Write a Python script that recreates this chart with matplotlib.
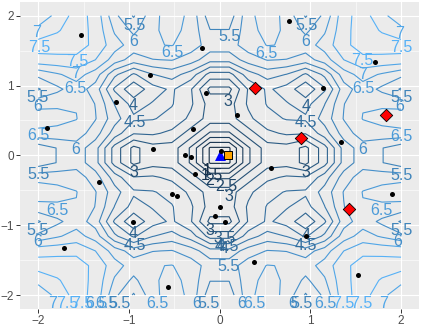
import numpy as np
import matplotlib
matplotlib.use("Agg")
import matplotlib.pyplot as plt
from matplotlib.ticker import FixedLocator

# ---------------- data ----------------
# evaluation grid of the surface (20 x 20 points over [-2, 2])
grid_x = np.linspace(-2, 2, 20)
grid_y = np.linspace(-2, 2, 20)

def ackley(x, y):
    return (-20 * np.exp(-0.2 * np.sqrt(0.5 * (x ** 2 + y ** 2)))
            - np.exp(0.5 * (np.cos(2 * np.pi * x) + np.cos(2 * np.pi * y)))
            + np.e + 20)

contour_levels = [1.0, 1.5, 2.0, 2.5, 3.0, 3.5, 4.0, 4.5, 5.0, 5.5, 6.0, 6.5, 7.0, 7.5]

# sampled points
sample_x = [-1.526, -0.769, -1.144, -1.904, -0.736, 0.762, -0.193, -0.149, 0.189, -0.295,
            -0.384, -0.317, 0.013, 1.713, 1.140, 1.339, -1.328, -0.957, -1.714, 0.567,
            -0.270, -0.520, -0.472, 0.002, -0.053, 0.064, 0.380, -0.571, 1.897, 0.950, 1.526]
sample_y = [1.728, 1.155, 0.768, 0.395, 0.095, 1.929, 1.542, 0.897, 0.577, 0.372,
            0.009, -0.020, 0.066, 1.341, 0.964, 0.190, -0.383, -0.951, -1.323, -0.177,
            -0.268, -0.559, -0.579, -0.745, -0.865, -0.951, -1.524, -1.891, -0.559, -1.152, -1.710]

# highlighted points
new_x = [0.395, 1.838, 0.902, 1.431]
new_y = [0.969, 0.573, 0.252, -0.774]

optimum_x = [0.0]
optimum_y = [0.0]
best_x = [0.097]
best_y = [0.0]

# contour labels (text, x, y)
label_text = ["5.5", "6", "7", "7.5", "7.5", "7", "6.5", "5.5", "6", "6.5", "6", "4", "4.5",
              "5.5", "6.5", "6.5", "3",
              "5.5", "6", "7", "7.5", "7.5", "7", "6.5", "5.5", "6", "6.5", "6", "4", "4.5",
              "5.5", "3", "6.5", "5.5", "6", "4", "4.5",
              "1", "1.5", "2", "2.5", "3", "3", "3.5", "4", "4.5", "4", "5.5",
              "5.5", "6.5", "5.5", "6", "3", "4", "4.5",
              "7", "7.5", "7.5", "6.5", "6.5", "5.5", "6.5", "6", "5.5", "6", "6.5",
              "6", "5.5", "6.5", "7.5", "7.5", "7"]
label_x = [-0.94, -0.95, -2.02, -1.99, -1.57, -1.59, -1.585, -2.01, -2.01, -2.0, -1.59, -0.95, -0.94,
           0.108, -0.52, 0.52, 0.094,
           0.955, 0.945, 1.985, 2.0, 1.57, 1.575, 1.58, 2.0, 1.985, 2.0, 1.575, 0.95, 0.95,
           -2.0, -0.95, -1.783, -2.005, -2.005, -0.955, -0.94,
           -0.134, -0.086, -0.105, 0.079, 0.097, -0.112, 0.06, 0.0, 0.09, 0.05, 0.10,
           2.003, 1.783, 2.003, 1.967, 0.95, 0.95, 0.95,
           -1.838, -1.684, -1.518, -1.353, -1.243, -1.107, -0.689, -0.251, -0.127, 0.245, 0.38,
           0.807, 0.898, 1.17, 1.36, 1.56, 1.81]
label_y = [1.855, 1.625, 1.76, 1.545, 1.345, 1.165, 0.96, 0.835, 0.70, 0.285, 0.09, 0.71, 0.467,
           1.70, 1.47, 1.46, 0.778,
           1.86, 1.628, 1.75, 1.545, 1.351, 1.155, 0.96, 0.835, 0.706, 0.277, 0.09, 0.706, 0.467,
           -0.27, -0.24, -0.784, -1.07, -1.23, -1.12, -1.29,
           -0.22, -0.282, -0.354, -0.44, -0.585, -1.07, -1.19, -1.31, -1.30, -1.33, -1.596,
           -0.282, -0.784, -1.07, -1.238, -0.249, -1.142, -1.285,
           -2.115, -2.115, -2.115, -2.115, -2.115, -2.115, -2.115, -2.115, -2.115, -2.115, -2.115,
           -2.115, -2.115, -2.115, -2.115, -2.115, -2.115]

tick_values = [-2, -1, 0, 1, 2]

# ---------------- helpers ----------------
def _srgb_to_lab(hexcol):
    c = np.array([int(hexcol[i:i + 2], 16) for i in (1, 3, 5)]) / 255.0
    c = np.where(c <= 0.04045, c / 12.92, ((c + 0.055) / 1.055) ** 2.4)
    M = np.array([[0.4124, 0.3576, 0.1805], [0.2126, 0.7152, 0.0722], [0.0193, 0.1192, 0.9505]])
    xyz = M @ c / np.array([0.95047, 1.0, 1.08883])
    f = np.where(xyz > 0.008856, np.cbrt(xyz), 7.787 * xyz + 16 / 116)
    return np.array([116 * f[1] - 16, 500 * (f[0] - f[1]), 200 * (f[1] - f[2])])

def _lab_to_srgb(lab):
    L, a, b = lab
    fy = (L + 16) / 116
    fx = fy + a / 500
    fz = fy - b / 200
    f = np.array([fx, fy, fz])
    xyz = np.where(f ** 3 > 0.008856, f ** 3, (f - 16 / 116) / 7.787) * np.array([0.95047, 1.0, 1.08883])
    Mi = np.array([[3.2406, -1.5372, -0.4986], [-0.9689, 1.8758, 0.0415], [0.0557, -0.2040, 1.0570]])
    c = Mi @ xyz
    c = np.where(c <= 0.0031308, 12.92 * c, 1.055 * np.clip(c, 0, None) ** (1 / 2.4) - 0.055)
    return tuple(np.clip(c, 0, 1))

lab_lo = _srgb_to_lab("#132B43")
lab_hi = _srgb_to_lab("#56B1F7")
lv_min, lv_max = min(contour_levels), max(contour_levels)

def level_color(v):
    t = (float(v) - lv_min) / (lv_max - lv_min)
    return _lab_to_srgb(lab_lo + t * (lab_hi - lab_lo))

# ---------------- figure ----------------
plt.rcParams["font.family"] = ["Liberation Sans", "DejaVu Sans"]
W, H = 423, 331
fig = plt.figure(figsize=(W / 100, H / 100), dpi=100)
ax = fig.add_axes([20 / W, 1 - 309 / H, (419.2 - 20) / W, (309 - 1.7) / H])
ax.set_facecolor("#EBEBEB")
for s in ax.spines.values():
    s.set_visible(False)

ax.set_xlim(-2.2, 2.2)
ax.set_ylim(-2.2, 2.2)
ax.xaxis.set_major_locator(FixedLocator(tick_values))
ax.yaxis.set_major_locator(FixedLocator(tick_values))
ax.xaxis.set_minor_locator(FixedLocator([-1.5, -0.5, 0.5, 1.5]))
ax.yaxis.set_minor_locator(FixedLocator([-1.5, -0.5, 0.5, 1.5]))
ax.grid(which="major", color="white", linewidth=0.8)
ax.grid(which="minor", color="white", linewidth=0.4)
ax.set_axisbelow(True)
ax.tick_params(which="major", length=2.7, width=0.7, color="#333333",
               labelcolor="#4D4D4D", labelsize=8.5, pad=1.8)
ax.tick_params(which="minor", length=0)

GX, GY = np.meshgrid(grid_x, grid_y)
Z = ackley(GX, GY)
ax.contour(GX, GY, Z, levels=contour_levels,
           colors=[level_color(v) for v in contour_levels], linewidths=0.8, zorder=2)

for t, x, y in zip(label_text, label_x, label_y):
    ax.text(x, y, t, color=level_color(float(t)), fontsize=11.5,
            ha="center", va="center", zorder=3)

ax.scatter(optimum_x, optimum_y, marker="^", s=62, color="#0000FF", linewidths=0, zorder=4)
ax.scatter(best_x, best_y, marker="s", s=34, color="#FFA500", edgecolors="black",
           linewidths=0.7, zorder=5)
ax.scatter(sample_x, sample_y, marker="o", s=13, color="black", linewidths=0, zorder=6)
ax.scatter(new_x, new_y, marker="D", s=40, color="#FF0000", edgecolors="black",
           linewidths=0.6, zorder=7)

fig.savefig("out.png", dpi=100)
